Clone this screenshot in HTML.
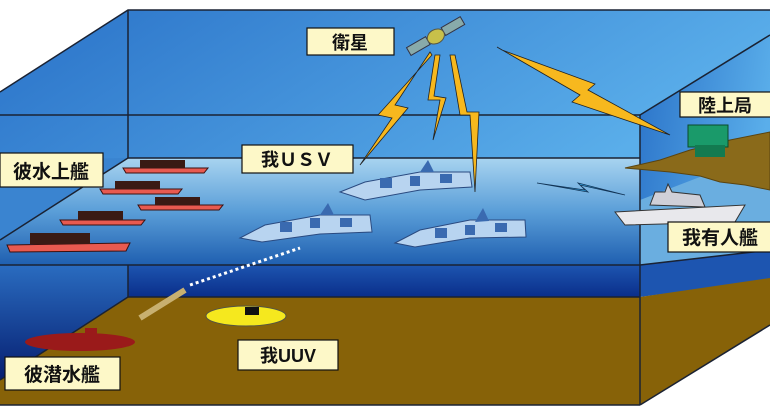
<!DOCTYPE html>
<html><head><meta charset="utf-8"><style>
html,body{margin:0;padding:0;background:#fff;}
svg{display:block}
text{font-family:"Liberation Sans","Noto Sans CJK JP",sans-serif;font-weight:bold;fill:#111}
</style></head><body>
<svg width="770" height="410" viewBox="0 0 770 410" xmlns="http://www.w3.org/2000/svg">
<defs>
<linearGradient id="sky" x1="0" y1="0" x2="1" y2="0.3">
<stop offset="0" stop-color="#2a72c8"/><stop offset="1" stop-color="#5aaeea"/></linearGradient>
<linearGradient id="surf" x1="0" y1="0" x2="0" y2="1">
<stop offset="0" stop-color="#a8d4f0"/><stop offset="0.5" stop-color="#5a9ed8"/><stop offset="1" stop-color="#1f5fb0"/></linearGradient>
<linearGradient id="deep" x1="0" y1="0" x2="0" y2="1">
<stop offset="0" stop-color="#1d55b0"/><stop offset="1" stop-color="#0a2e8a"/></linearGradient>
<linearGradient id="leftdeep" x1="0" y1="0" x2="0" y2="1">
<stop offset="0" stop-color="#2a6cc0"/><stop offset="1" stop-color="#061e70"/></linearGradient>
</defs>
<rect width="770" height="410" fill="#fff"/>
<!-- sky region -->
<polygon points="0,92 128,10 770,10 770,35 640,115 640,160 0,160" fill="url(#sky)"/>
<polygon points="640,115 770,35 770,260 640,265" fill="url(#sky)"/>
<!-- water surface -->
<polygon points="0,240 128,158 640,158 640,265 0,265" fill="url(#surf)"/>
<polygon points="0,160 128,158 0,240" fill="#3a84d0"/>
<polygon points="640,200 770,150 770,255 640,265" fill="#6aaee0"/>
<!-- deep band -->
<rect x="0" y="265" width="640" height="32" fill="url(#deep)"/>
<polygon points="0,265 128,265 128,297 0,380" fill="url(#leftdeep)"/>
<polygon points="640,265 770,250 770,280 640,297" fill="#1d55b0"/>
<!-- floor -->
<polygon points="128,297 640,297 640,405 0,405 0,380" fill="#876208"/>
<polygon points="640,297 770,278 770,325 640,405" fill="#876208"/>
<!-- edges -->
<g stroke="#1a2233" stroke-width="1.5" fill="none">
<polyline points="0,92 128,10 770,10"/>
<line x1="128" y1="10" x2="128" y2="158"/>
<line x1="0" y1="115" x2="640" y2="115"/>
<line x1="128" y1="158" x2="640" y2="158"/>
<line x1="128" y1="158" x2="0" y2="240"/>
<line x1="640" y1="115" x2="770" y2="35"/>
<line x1="640" y1="115" x2="640" y2="405"/>
<line x1="0" y1="265" x2="640" y2="265"/>
<line x1="640" y1="265" x2="770" y2="250"/>
<line x1="128" y1="265" x2="128" y2="297"/>
<line x1="128" y1="297" x2="640" y2="297"/>
<line x1="128" y1="297" x2="0" y2="380"/>
<line x1="0" y1="405" x2="640" y2="405"/>
<line x1="640" y1="405" x2="770" y2="325"/>
</g>
<!-- land -->
<path d="M625,168 L660,160 L690,150 L730,140 L770,132 L770,190 L745,185 L720,182 L700,176 L670,172 Z" fill="#8a6a1a" stroke="#5a4410"/>
<rect x="688" y="125" width="40" height="22" fill="#1a9a6a" stroke="#0a4a2a"/>
<rect x="695" y="145" width="30" height="12" fill="#137a50"/>
<!-- grey ship -->
<path d="M615,212 L745,205 L735,222 L625,225 Z" fill="#e8e8ec" stroke="#333"/>
<path d="M650,205 L655,192 L665,192 L668,184 L672,192 L700,195 L705,207 Z" fill="#d0d0d8" stroke="#333"/>
<!-- satellite -->
<g transform="rotate(-30 435 37)">
<rect x="405" y="32" width="22" height="9" fill="#8aa" stroke="#334"/>
<rect x="445" y="32" width="22" height="9" fill="#8aa" stroke="#334"/>
<ellipse cx="436" cy="37" rx="9" ry="7" fill="#c8c04a" stroke="#554"/>
</g>
<!-- lightning -->
<g fill="#f7b81e" stroke="#222" stroke-width="0.8">
<polygon points="430,52 395,105 408,108 360,165 392,118 378,115 432,55"/>
<polygon points="435,55 428,100 440,100 433,140 446,98 434,96 440,55"/>
<polygon points="450,55 460,115 470,115 475,192 479,112 467,112 455,55"/>
<polygon points="497,47 580,95 572,102 670,135 588,90 595,84 502,50"/>
</g>
<polygon points="537,183 585,190 578,183 625,195 580,185 588,192" fill="#3ab0f0" stroke="#135" stroke-width="0.8"/>
<!-- USVs -->
<g fill="#b8d4f0" stroke="#2a4a80" stroke-width="1">
<path d="M340,192 L365,182 L420,172 L470,172 L472,187 L420,190 L365,200 Z"/>
<path d="M240,238 L265,225 L320,215 L370,215 L372,232 L320,234 L262,242 Z"/>
<path d="M395,243 L420,230 L470,220 L525,220 L526,237 L470,238 L415,247 Z"/>
</g>
<g fill="#3a6ab0">
<rect x="380" y="178" width="12" height="10"/><rect x="410" y="176" width="10" height="10"/><rect x="440" y="174" width="12" height="9"/>
<rect x="280" y="222" width="12" height="10"/><rect x="310" y="218" width="10" height="10"/><rect x="340" y="218" width="12" height="9"/>
<rect x="435" y="228" width="12" height="10"/><rect x="465" y="225" width="10" height="10"/><rect x="495" y="223" width="12" height="9"/>
<polygon points="420,172 428,160 434,172"/><polygon points="320,215 328,203 334,215"/><polygon points="475,222 483,208 489,221"/>
</g>
<!-- red ships -->
<g fill="#e85a50" stroke="#3a1010" stroke-width="1">
<path d="M123,168 L208,168 L204,173 L126,173 Z"/>
<path d="M100,189 L182,189 L178,194 L103,194 Z"/>
<path d="M138,205 L223,205 L219,210 L141,210 Z"/>
<path d="M60,220 L145,220 L141,225 L63,225 Z"/>
<path d="M7,245 L130,243 L126,251 L10,252 Z"/>
</g>
<g fill="#3a1a14">
<rect x="140" y="160" width="45" height="8"/><rect x="115" y="181" width="45" height="8"/><rect x="155" y="197" width="45" height="8"/><rect x="78" y="211" width="45" height="9"/><rect x="30" y="233" width="60" height="11"/>
</g>
<!-- torpedo/dotted -->
<line x1="140" y1="318" x2="185" y2="290" stroke="#c8b070" stroke-width="6"/>
<line x1="190" y1="285" x2="300" y2="248" stroke="#fff" stroke-width="3" stroke-dasharray="3,3"/>
<!-- UUV -->
<ellipse cx="246" cy="316" rx="40" ry="10" fill="#f5e81e" stroke="#554"/>
<rect x="245" y="307" width="14" height="8" fill="#111"/>
<!-- submarine -->
<ellipse cx="80" cy="342" rx="55" ry="9" fill="#9a1a1a"/>
<rect x="85" y="328" width="12" height="8" fill="#9a1a1a"/>
<!-- labels -->
<g fill="#fdf8c8" stroke="#111" stroke-width="1.2">
<rect x="307" y="28" width="87" height="27"/>
<rect x="680" y="92" width="95" height="25"/>
<rect x="0" y="153" width="103" height="34"/>
<rect x="242" y="145" width="111" height="28"/>
<rect x="668" y="222" width="110" height="30"/>
<rect x="238" y="340" width="100" height="30"/>
<rect x="5" y="357" width="115" height="33"/>
</g>
<text x="350" y="49" font-size="18" text-anchor="middle">衛星</text>
<text x="725" y="112" font-size="18" text-anchor="middle">陸上局</text>
<text x="51" y="178" font-size="19" text-anchor="middle">彼水上艦</text>
<text x="297" y="166" font-size="18" text-anchor="middle">我ＵＳＶ</text>
<text x="720" y="244" font-size="19" text-anchor="middle">我有人艦</text>
<text x="288" y="362" font-size="18" text-anchor="middle">我UUV</text>
<text x="62" y="381" font-size="19" text-anchor="middle">彼潜水艦</text>
</svg>
</body></html>
